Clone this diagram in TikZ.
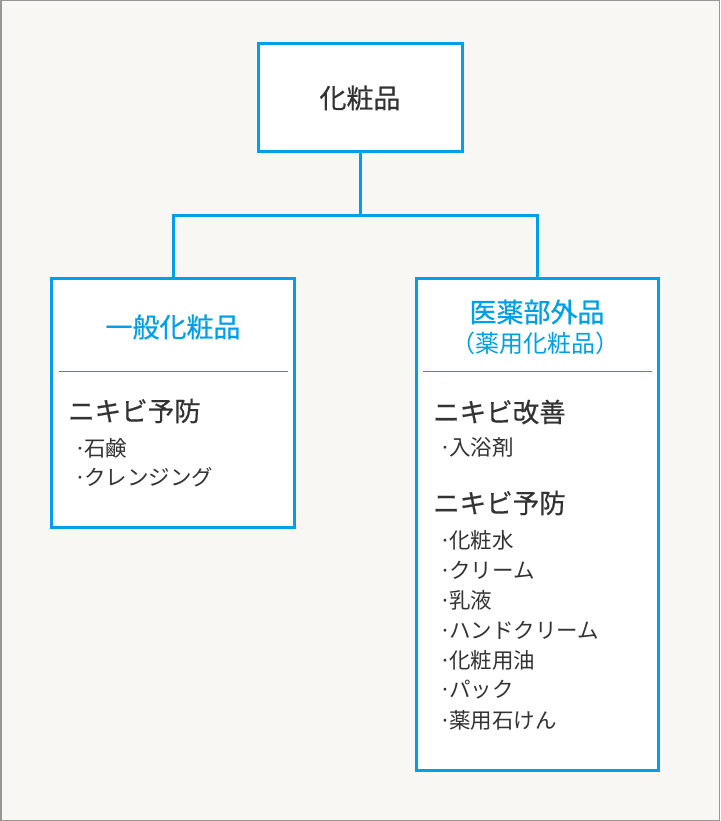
\documentclass[tikz,border=0pt]{standalone}
\usepackage{fontspec}
\setmainfont{Noto Sans CJK JP}
\newfontfamily\heavyfont{Noto Sans CJK JP}[FakeBold=0.6]
\usetikzlibrary{positioning}
\definecolor{skyblue}{RGB}{0,160,233}
\definecolor{ink}{RGB}{51,51,51}
\definecolor{paper}{RGB}{248,247,243}
\definecolor{framegray}{RGB}{150,150,150}
\newcommand{\dotitem}{·\kern-2pt}

\begin{document}
\begin{tikzpicture}[
  x=1pt, y=-1pt,
  box/.style={draw=skyblue, line width=3pt, fill=white, inner sep=0pt},
  link/.style={draw=skyblue, line width=3pt},
  sepline/.style={draw=skyblue, line width=1pt},
  title/.style={text=skyblue, font=\heavyfont\fontsize{27}{32}\selectfont, inner sep=0pt},
  subtitle/.style={text=skyblue, font=\fontsize{24}{28}\selectfont, inner sep=0pt},
  head/.style={anchor=west, text=ink, font=\heavyfont\fontsize{26.5}{32}\selectfont, inner sep=0pt},
  item/.style={anchor=west, text=ink, font=\fontsize{21.5}{26}\selectfont, inner sep=0pt}
]
\useasboundingbox (0,0) rectangle (720,821);
\draw[draw=framegray, fill=paper, line width=1.5pt] (0.75,0.75) rectangle (719.25,820.25);

\node[box, text=ink, font=\heavyfont\fontsize{27}{32}\selectfont, minimum width=204pt, minimum height=108pt] (cosm) at (360,98) {化粧品};
\node[box, minimum width=243pt, minimum height=249pt] (general) at (173,402.5) {};
\node[box, minimum width=242pt, minimum height=492pt] (quasi) at (537,524.5) {};

\draw[link] (cosm.south) -- ++(0,62) -| (general.north);
\draw[link] (cosm.south) -- ++(0,62) -| (quasi.north);

% left box
\node[title] (general_t) at (173,327) {一般化粧品};
\draw[sepline] (59,371) -- (288,371);
\node[head] (general_h) at (68,411) {ニキビ予防};
\node[item] (soap) at (74,448) {\dotitem 石鹸};
\node[item] (cleansing) at (74,477) {\dotitem クレンジング};

% right box
\node[title] (quasi_t) at (537,312) {医薬部外品};
\node[subtitle] (quasi_s) at (535,343) {（薬用化粧品）};
\draw[sepline] (423,371) -- (652,371);
\node[head] (improve_h) at (433,412) {ニキビ改善};
\node[item] (bath) at (439,447) {\dotitem 入浴剤};
\node[head] (prevent_h) at (433,503) {ニキビ予防};
\node[item] (lotion) at (439,540) {\dotitem 化粧水};
\node[item] (cream) at (439,570) {\dotitem クリーム};
\node[item] (milk) at (439,600) {\dotitem 乳液};
\node[item] (hand) at (439,630) {\dotitem ハンドクリーム};
\node[item] (oil) at (439,660) {\dotitem 化粧用油};
\node[item] (pack) at (439,690) {\dotitem パック};
\node[item] (msoap) at (439,720) {\dotitem 薬用石けん};
\end{tikzpicture}
\end{document}
